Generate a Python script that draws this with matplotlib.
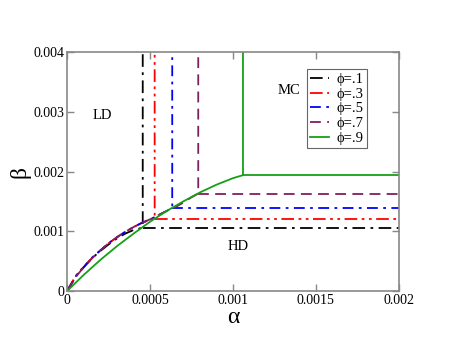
import matplotlib
matplotlib.use("Agg")
import matplotlib.pyplot as plt

plt.rcParams['font.family'] = ['Liberation Serif', 'DejaVu Serif']

# boundary curves (alpha, beta) for each phi
a_01 = [0, 0.00005, 0.0001, 0.00015, 0.0002, 0.00025, 0.0003, 0.00035, 0.0004, 0.000455]
b_01 = [0, 0.00024, 0.0004, 0.00055, 0.00067, 0.00078, 0.00088, 0.00096, 0.00102, 0.00106]

a_03 = [0, 0.00005, 0.0001, 0.00015, 0.0002, 0.00025, 0.0003, 0.00035, 0.0004, 0.00045, 0.0005, 0.000527]
b_03 = [0, 0.00025, 0.00041, 0.00055, 0.00068, 0.0008, 0.0009, 0.00099, 0.00107, 0.00114, 0.00119, 0.00121]

a_05 = [0, 0.00005, 0.0001, 0.00015, 0.0002, 0.00025, 0.0003, 0.00035, 0.0004, 0.00045, 0.0005,
        0.00055, 0.0006, 0.000633]
b_05 = [0, 0.00024, 0.0004, 0.00056, 0.00068, 0.0008, 0.0009, 0.00099, 0.00107, 0.00114, 0.0012,
        0.00127, 0.00134, 0.00139]

a_07 = [0, 0.00005, 0.0001, 0.00015, 0.0002, 0.00025, 0.0003, 0.00035, 0.0004, 0.00045, 0.0005,
        0.00055, 0.0006, 0.00065, 0.0007, 0.00075, 0.00079]
b_07 = [0, 0.00023, 0.0004, 0.00055, 0.00068, 0.0008, 0.0009, 0.00099, 0.00107, 0.00114, 0.0012,
        0.00127, 0.00134, 0.0014, 0.00148, 0.00157, 0.00163]

a_09 = [0, 0.0001, 0.0002, 0.0003, 0.0004, 0.0005, 0.0006, 0.0007, 0.0008, 0.0009, 0.001, 0.00106]
b_09 = [0, 0.00027, 0.00052, 0.00075, 0.00096, 0.00116, 0.00134, 0.0015, 0.00165, 0.00178, 0.00189, 0.00194]

labels = ['ϕ=.1', 'ϕ=.3', 'ϕ=.5', 'ϕ=.7', 'ϕ=.9']
colors = ['black', 'red', 'blue', '#7f1f5f', '#16a016']
styles = [(0, (7, 3, 1.5, 3)), (0, (7, 2.5, 1.5, 2.5, 1.5, 2.5)), (0, (6, 3, 1.5, 3)),
          (0, (6, 3.5)), '-']

alpha_max = 0.002
beta_max = 0.004

xticks = [0, 0.0005, 0.001, 0.0015, 0.002]
xticklabels = ['0', '0.0005', '0.001', '0.0015', '0.002']
yticks = [0, 0.001, 0.002, 0.003, 0.004]
yticklabels = ['0', '0.001', '0.002', '0.003', '0.004']

fig = plt.figure(figsize=(4.49, 3.47), dpi=100)
ax = fig.add_axes([0.150, 0.162, 0.738, 0.687])

curves = [(a_01, b_01), (a_03, b_03), (a_05, b_05), (a_07, b_07), (a_09, b_09)]
for (a, b), lab, c, ls in zip(curves, labels, colors, styles):
    ac, bc = a[-1], b[-1]
    # curve up to the corner, then vertical line up; horizontal line from the corner
    ax.plot(a + [ac], b + [beta_max], color=c, ls=ls, lw=1.3, label=lab)
    ax.plot([ac, alpha_max], [bc, bc], color=c, ls=ls, lw=1.3)

ax.text(0.00021, 0.00294, 'LD', fontsize=10.5, ha='center', va='center')
ax.text(0.00134, 0.00336, 'MC', fontsize=10.5, ha='center', va='center')
ax.text(0.00103, 0.00075, 'HD', fontsize=10.5, ha='center', va='center')

ax.set_xlim(0, alpha_max)
ax.set_ylim(0, beta_max)
ax.set_xticks(xticks)
ax.set_xticklabels(xticklabels)
ax.set_yticks(yticks)
ax.set_yticklabels(yticklabels)
ax.tick_params(direction='in', length=5, width=1, color='#888888', labelsize=10,
               top=True, right=True, pad=2)
for s in ax.spines.values():
    s.set_color('#888888')
    s.set_linewidth(1.2)

ax.set_xlabel('α', fontsize=17, labelpad=0)
ax.set_ylabel('β', fontsize=17, labelpad=2)

leg = ax.legend(loc='upper right', bbox_to_anchor=(0.905, 0.93), fontsize=10.5,
                handlelength=1.3, handletextpad=0.5, borderpad=0.25, labelspacing=0.1,
                fancybox=False, framealpha=1, borderaxespad=0)
leg.get_frame().set_edgecolor('#666666')
leg.get_frame().set_linewidth(0.8)

fig.savefig('out.png', dpi=100)
